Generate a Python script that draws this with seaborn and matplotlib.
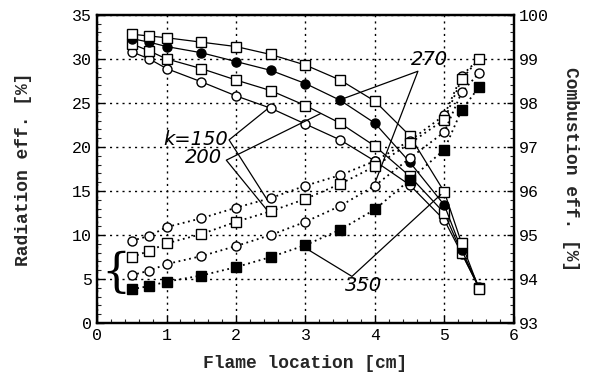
import pandas as pd
import matplotlib.pyplot as plt
import seaborn as sns


# flame locations [cm]
loc = [0.5, 0.75, 1, 1.5, 2, 2.5, 3, 3.5, 4, 4.5, 5, 5.25, 5.5]

# radiation efficiency [%] (left axis)
rad_150 = [30.8, 30.0, 28.9, 27.4, 25.8, 24.4, 22.6, 20.8, 18.4, 15.7, 11.7, 7.9, 4.0]
rad_200 = [31.7, 30.9, 30.0, 28.9, 27.6, 26.4, 24.7, 22.7, 20.1, 16.7, 12.5, 8.0, 4.0]
rad_270 = [32.3, 31.9, 31.4, 30.7, 29.7, 28.7, 27.2, 25.3, 22.7, 18.3, 13.4, 8.3, 4.1]
rad_350 = [32.8, 32.6, 32.4, 31.9, 31.4, 30.5, 29.3, 27.6, 25.2, 21.3, 14.9, 9.05, 3.9]

# combustion efficiency [%] (right axis)
comb_150 = [94.87, 94.98, 95.18, 95.38, 95.62, 95.84, 96.12, 96.36, 96.68, 97.14, 97.72, 98.62, 99.0]
comb_200 = [94.5, 94.64, 94.81, 95.02, 95.3, 95.54, 95.82, 96.16, 96.56, 97.08, 97.62, 98.54, 99.0]
comb_270 = [94.09, 94.19, 94.34, 94.52, 94.75, 95.0, 95.3, 95.66, 96.12, 96.74, 97.34, 98.24, 98.68]
comb_350 = [93.77, 93.84, 93.94, 94.08, 94.27, 94.5, 94.77, 95.12, 95.58, 96.25, 96.94, 97.84, 98.36]

# marker style for each k: (marker, face colour, dot inside)
styles = {
    "150": ("o", "white", False),
    "200": ("s", "white", True),
    "270": ("o", "black", False),
    "350": ("s", "white", False),
}

rad = {"150": rad_150, "200": rad_200, "270": rad_270, "350": rad_350}
# the combustion curves use a filled square for k=350
comb = {"150": comb_150, "200": comb_200, "270": comb_270, "350": comb_350}
comb_styles = {
    "150": ("o", "white", False),
    "200": ("s", "white", True),
    "270": ("o", "white", False),
    "350": ("s", "black", False),
}

sns.set_style("ticks")
plt.rcParams["font.family"] = ["Liberation Mono", "DejaVu Sans Mono"]

fig = plt.figure(figsize=(5.96, 3.81), dpi=100)
ax = fig.add_axes([0.163, 0.152, 0.699, 0.809])
ax2 = ax.twinx()


def draw(axis, x, y, st, ls, lw):
    marker, face, dot = st
    df = pd.DataFrame({"x": x, "y": y})
    sns.lineplot(data=df, x="x", y="y", ax=axis, color="black", linestyle=ls,
                 linewidth=lw, marker=marker, markersize=6.5,
                 markerfacecolor=face, markeredgecolor="black",
                 markeredgewidth=1.0, sort=False)
    if dot:
        sns.scatterplot(data=df, x="x", y="y", ax=axis, color="black", s=3,
                        marker="s", linewidth=0)


for k in ["150", "200", "270", "350"]:
    draw(ax, loc, rad[k], styles[k], "-", 0.9)
    draw(ax2, loc, comb[k], comb_styles[k], (0, (1, 2)), 1.3)

ax.set_xlim(0, 6)
ax.set_ylim(0, 35)
ax2.set_ylim(93, 100)

ax.set_xticks(range(0, 7))
ax.set_yticks(range(0, 36, 5))
ax2.set_yticks(range(93, 101))
ax.set_xticks([i * 0.2 for i in range(31)], minor=True)
ax.set_yticks(range(0, 36), minor=True)
ax2.set_yticks([93 + i * 0.2 for i in range(36)], minor=True)

for a in (ax, ax2):
    a.tick_params(which="major", direction="in", length=5, width=1,
                  labelsize=12, colors="black")
    a.tick_params(which="minor", direction="in", length=3, width=0.8)
    for s in a.spines.values():
        s.set_linewidth(1.6)
        s.set_color("black")

ax.grid(True, which="major", color="black", linestyle=(0, (1.5, 3)), linewidth=1.0)

ax.set_xlabel("Flame location [cm]", fontsize=13, fontweight="bold", labelpad=9)
ax.set_ylabel("Radiation eff. [%]", fontsize=13, fontweight="bold", labelpad=29)
ax2.set_ylabel("Combustion eff. [%]", fontsize=13, fontweight="bold",
               rotation=270, labelpad=22)
ax2.set_xlabel("")

# annotation labels with their leader lines (left-axis data units)
ann_font = dict(family="DejaVu Sans", style="italic", fontsize=14, color="black")
ax.text(1.88, 20.9, "k=150", ha="right", va="center", **ann_font)
ax.plot([2.45, 1.9, 2.45], [24.3, 20.8, 14.0], color="black", lw=0.9)
ax.text(1.80, 18.8, "200", ha="right", va="center", **ann_font)
ax.plot([3.22, 1.86, 2.45], [23.8, 18.5, 12.8], color="black", lw=0.9)
ax.text(4.78, 29.9, "270", ha="center", va="center", **ann_font)
ax.plot([3.48, 4.62, 4.0], [25.3, 28.6, 15.9], color="black", lw=0.9)
ax.text(3.84, 4.3, "350", ha="center", va="center", **ann_font)
ax.plot([2.93, 3.67, 4.95], [8.86, 5.3, 14.6], color="black", lw=0.9)

# brace grouping the combustion curves
ax.text(0.27, 5.6, "{", ha="center", va="center", fontsize=33,
        family="DejaVu Serif", fontweight="light", color="black")

fig.savefig("out.png", dpi=100)
